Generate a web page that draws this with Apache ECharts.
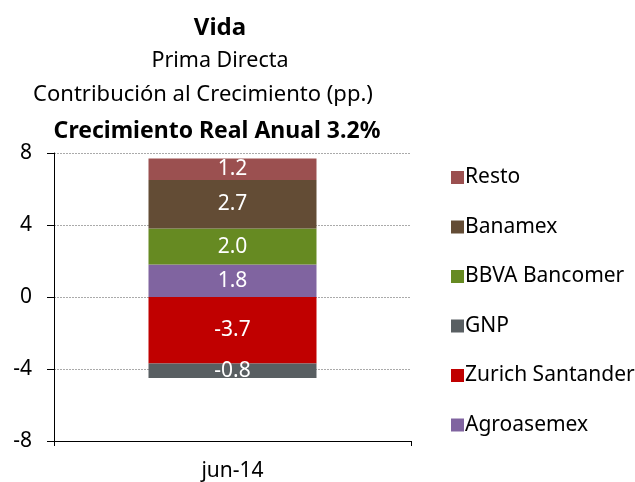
<!DOCTYPE html>
<html><head><meta charset="utf-8">
<script src="https://cdn.jsdelivr.net/npm/echarts@6/dist/echarts.min.js"></script>
<style>html,body{margin:0;padding:0;background:#fff}#c{width:635px;height:482px}</style>
</head><body><div id="c"></div>
<script>
const categories = ['jun-14'];
const seriesNames = ['Agroasemex','Zurich Santander','GNP','BBVA Bancomer','Banamex','Resto'];
const agroasemex = [1.8];
const zurichSantander = [-3.7];
const gnp = [-0.8];
const bbvaBancomer = [2.0];
const banamex = [2.7];
const resto = [1.2];
const legendOrder = ['Resto','Banamex','BBVA Bancomer','GNP','Zurich Santander','Agroasemex'];
const yTicks = [-8,-4,0,4,8];

const colors = ['#8064A0','#C00000','#595F62','#668A22','#634C35','#9B5050'];
const values = [agroasemex, zurichSantander, gnp, bbvaBancomer, banamex, resto];
const FONT = 'Noto Sans';

const chart = echarts.init(document.getElementById('c'));
chart.setOption({
  animation: false,
  textStyle: {fontFamily: FONT},
  title: [
    {text: 'Vida', left: 215, top: 11, textAlign: 'center', textStyle: {fontFamily: FONT, fontSize: 24, fontWeight: 'bold', color: '#000'}},
    {text: 'Prima Directa', left: 215, top: 45, textAlign: 'center', textStyle: {fontFamily: FONT, fontSize: 21.5, fontWeight: 'normal', color: '#000'}},
    {text: 'Contribución al Crecimiento (pp.)', left: 198, top: 79, textAlign: 'center', textStyle: {fontFamily: FONT, fontSize: 22, fontWeight: 'normal', color: '#000'}},
    {text: 'Crecimiento Real Anual 3.2%', left: 212, top: 115, textAlign: 'center', textStyle: {fontFamily: FONT, fontSize: 23, fontWeight: 'bold', color: '#000'}}
  ],
  legend: {
    orient: 'vertical', left: 446, top: 162,
    data: legendOrder, itemWidth: 13, itemHeight: 13, itemGap: 28.5,
    icon: 'rect',
    textStyle: {fontFamily: FONT, fontSize: 21, color: '#000', padding: [0,0,0,-4]}
  },
  grid: {left: 54, right: 224, top: 153, bottom: 41, containLabel: false},
  xAxis: [
    {type: 'category', data: categories, position: 'bottom',
     axisLine: {show: false}, axisTick: {show: false},
     axisLabel: {fontFamily: FONT, fontSize: 21, color: '#000', margin: 20}},
    {type: 'category', data: categories, position: 'bottom',
     axisLine: {show: true, onZero: true, lineStyle: {color: '#000', width: 1}},
     axisTick: {show: true, length: 5, lineStyle: {color: '#000'}},
     axisLabel: {show: false}}
  ],
  yAxis: {
    type: 'value', min: -8, max: 8, interval: 4,
    axisLine: {show: true, lineStyle: {color: '#000'}},
    axisTick: {show: true, length: 7, lineStyle: {color: '#000'}},
    axisLabel: {fontFamily: FONT, fontSize: 21, color: '#000', margin: 22},
    splitLine: {show: true, lineStyle: {color: '#aaaaaa', type: [2,1], width: 1}}
  },
  series: seriesNames.map((n, i) => ({
    name: n, type: 'bar', stack: 'total', xAxisIndex: 0,
    data: values[i], barWidth: 168,
    itemStyle: {color: colors[i]},
    label: {show: true, position: 'inside', color: '#fff', fontFamily: FONT, fontSize: 21,
            formatter: p => p.value.toFixed(1)}
  }))
});
</script></body></html>
